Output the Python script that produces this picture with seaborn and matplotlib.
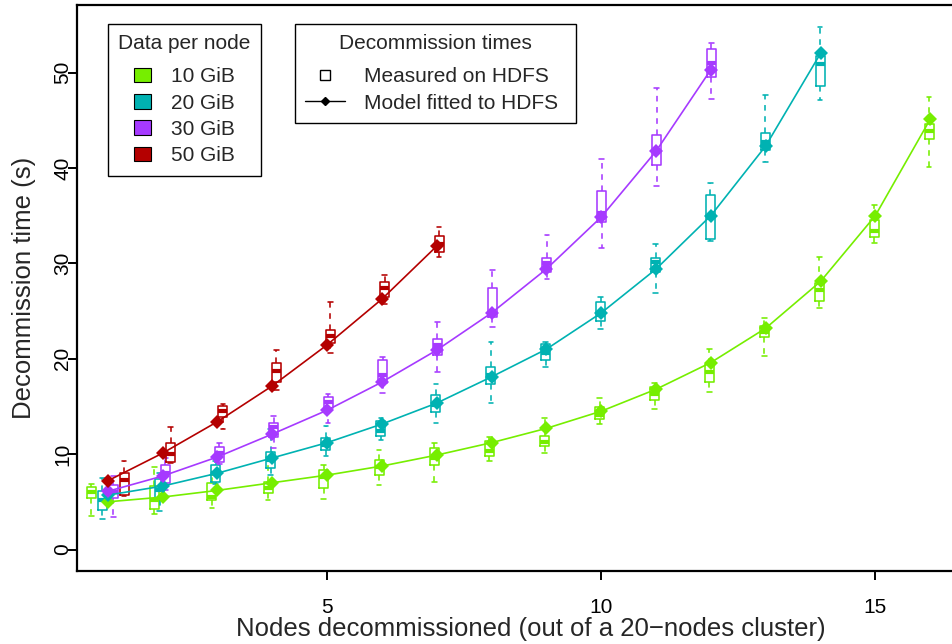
import matplotlib
matplotlib.use("Agg")
import matplotlib.pyplot as plt
from matplotlib.patches import Patch
from matplotlib.lines import Line2D
import seaborn as sns
import pandas as pd

# ---- data -------------------------------------------------------------
sizes = ["10 GiB", "20 GiB", "30 GiB", "50 GiB"]
colors = ["#76EE00", "#00B2B2", "#A63AFF", "#B40000"]

nodes_10 = list(range(1, 17))
nodes_20 = list(range(1, 15))
nodes_30 = list(range(1, 13))
nodes_50 = list(range(1, 8))

# model fitted to HDFS (seconds)
model_10 = [5.0, 5.5, 6.2, 7.0, 7.8, 8.75, 9.9, 11.2, 12.7, 14.5, 16.8, 19.6, 23.2, 28.1, 35.0, 45.1]
model_20 = [5.7, 6.65, 8.0, 9.6, 11.2, 13.15, 15.35, 18.1, 21.0, 24.8, 29.4, 35.0, 42.3, 52.0]
model_30 = [6.1, 7.7, 9.7, 12.1, 14.6, 17.55, 20.9, 24.8, 29.4, 34.85, 41.75, 50.3]
model_50 = [7.2, 10.1, 13.4, 17.15, 21.45, 26.25, 31.8]

# measured on HDFS: [whisker low, Q1, median, Q3, whisker high]
box_10 = [
    [3.5, 5.4, 6.0, 6.55, 6.85], [3.7, 4.3, 5.2, 6.7, 8.6], [4.35, 5.2, 5.5, 7.0, 7.8],
    [5.2, 5.9, 6.5, 7.1, 9.7], [5.3, 6.5, 7.6, 8.3, 8.85], [6.8, 7.8, 8.6, 9.4, 10.4],
    [7.1, 8.85, 9.6, 10.6, 11.2], [9.3, 9.8, 10.3, 11.4, 11.8], [10.1, 10.85, 11.3, 11.9, 13.8],
    [13.2, 13.7, 14.1, 14.9, 15.9], [14.7, 15.7, 16.3, 17.0, 17.5], [16.5, 17.6, 18.6, 19.5, 21.0],
    [20.3, 22.3, 22.8, 23.4, 24.3], [25.3, 26.0, 27.2, 27.9, 30.7], [32.1, 32.8, 33.4, 34.5, 36.1],
    [40.1, 43.0, 43.9, 44.6, 47.4],
]
box_20 = [
    [3.2, 4.15, 5.2, 6.1, 7.5], [4.0, 5.2, 6.2, 7.4, 8.0], [6.9, 7.1, 8.0, 8.9, 9.3],
    [7.8, 8.55, 9.4, 10.2, 12.6], [9.8, 10.4, 11.0, 11.7, 12.9], [11.5, 11.9, 12.4, 13.5, 13.8],
    [13.3, 14.4, 15.1, 16.2, 17.35], [15.35, 17.3, 18.3, 19.1, 21.75], [19.1, 19.85, 20.6, 21.5, 21.8],
    [23.1, 23.95, 24.6, 25.9, 26.5], [26.9, 29.1, 30.1, 30.55, 32.0], [32.3, 32.5, 34.9, 37.15, 38.4],
    [40.6, 41.9, 42.7, 43.7, 47.6], [47.1, 48.6, 50.9, 51.7, 54.8],
]
box_30 = [
    [3.4, 5.4, 6.0, 6.75, 7.7], [6.2, 6.95, 8.0, 8.85, 9.6], [9.0, 9.15, 10.1, 10.7, 11.15],
    [10.6, 11.8, 12.8, 13.3, 14.0], [13.3, 14.8, 15.5, 16.0, 16.3], [16.4, 17.45, 18.3, 19.85, 20.2],
    [18.6, 20.4, 21.4, 22.05, 23.85], [23.3, 24.4, 24.8, 27.4, 29.3], [28.35, 29.1, 30.0, 30.55, 33.0],
    [31.6, 34.3, 35.3, 37.6, 40.9], [38.1, 40.3, 41.8, 43.45, 48.4], [47.2, 49.5, 51.0, 52.45, 53.1],
]
box_50 = [
    [5.6, 5.7, 7.3, 8.0, 9.3], [9.1, 9.2, 10.0, 11.15, 12.8], [12.6, 13.9, 14.5, 15.0, 15.25],
    [16.7, 17.55, 18.7, 19.55, 20.9], [20.6, 21.7, 22.4, 23.0, 25.9], [25.7, 26.45, 27.4, 28.0, 28.8],
    [30.7, 31.2, 32.0, 32.85, 33.8],
]

nodes = [nodes_10, nodes_20, nodes_30, nodes_50]
models = [model_10, model_20, model_30, model_50]
boxes = [box_10, box_20, box_30, box_50]

# ---- figure -----------------------------------------------------------
sns.set_style("white")
plt.rcParams["font.family"] = ["Liberation Sans", "DejaVu Sans"]
plt.rcParams["axes.unicode_minus"] = True

W, H = 953, 644
fig = plt.figure(figsize=(W / 100, H / 100), dpi=100)
left_px, right_px, top_px, bottom_px = 77, 985, 5, 571
ax = fig.add_axes([left_px / W, 1 - bottom_px / H,
                   (right_px - left_px) / W, (bottom_px - top_px) / H])

# boxes, dodged around each x value (spread shrinks as x grows)
lw = 1.15
for g, (xs, stats_raw, c) in enumerate(zip(nodes, boxes, colors)):
    stats = [dict(whislo=s[0], q1=s[1], med=s[2], q3=s[3], whishi=s[4], fliers=[])
             for s in stats_raw]
    pos = [x + (g - 1.5) * 0.2 / x for x in xs]
    ax.bxp(stats, positions=pos, widths=0.165, showfliers=False, manage_ticks=False,
           capwidths=0.085,
           boxprops=dict(color=c, linewidth=lw),
           whiskerprops=dict(color=c, linewidth=lw, linestyle=(0, (3.5, 3.5))),
           capprops=dict(color=c, linewidth=lw),
           medianprops=dict(color=c, linewidth=3.0, solid_capstyle="butt"))

# fitted model curves
df = pd.concat([pd.DataFrame({"nodes": xs, "time": ys, "size": s})
                for xs, ys, s in zip(nodes, models, sizes)], ignore_index=True)
sns.lineplot(data=df, x="nodes", y="time", hue="size", palette=colors,
             marker="D", markersize=7.3, markeredgewidth=0, linewidth=1.2,
             legend=False, ax=ax, zorder=3)

ax.set_xlim(0.44, 17.0)
ax.set_ylim(-2.25, 57.08)
ax.set_xticks([5, 10, 15])
ax.set_yticks([0, 10, 20, 30, 40, 50])
ax.tick_params(axis="both", direction="out", length=6.5, width=1.4, labelsize=15,
               color="black", labelcolor="black", bottom=True, left=True)
ax.tick_params(axis="x", pad=13)
ax.tick_params(axis="y", pad=-3)
for lab in ax.get_yticklabels():
    lab.set_rotation(90)
    lab.set_va("center")
for sp in ax.spines.values():
    sp.set_color("black")
    sp.set_linewidth(1.6)

ax.set_xlabel("Nodes decommissioned (out of a 20\u2212nodes cluster)", fontsize=18.5, labelpad=0)
ax.set_ylabel("Decommission time (s)", fontsize=18.5, labelpad=12)

# legends
h1 = [Patch(facecolor=c, edgecolor="black", linewidth=0.8, label=s)
      for c, s in zip(colors, sizes)]
leg1 = ax.legend(handles=h1, title="Data per node", loc="upper left",
                 bbox_to_anchor=(108 / W, 1 - 24 / H), bbox_transform=fig.transFigure,
                 frameon=True, fancybox=False, edgecolor="black", framealpha=1,
                 fontsize=15, title_fontsize=15, handlelength=0.8, handleheight=0.7,
                 handletextpad=1.0, borderpad=0.5, labelspacing=0.35, borderaxespad=0)
leg1.get_frame().set_linewidth(1.0)
leg1._legend_box.sep = 10
ax.add_artist(leg1)

h2 = [Line2D([], [], linestyle="none", marker="s", markersize=7, markerfacecolor="none",
             markeredgecolor="black", markeredgewidth=1.0, label="Measured on HDFS"),
      Line2D([], [], color="black", linewidth=1.0, marker="D", markersize=4,
             label="Model fitted to HDFS")]
leg2 = ax.legend(handles=h2, title="Decommission times", loc="upper left",
                 bbox_to_anchor=(295 / W, 1 - 127 / H, 281 / W, 103 / H),
                 bbox_transform=fig.transFigure, mode="expand",
                 frameon=True, fancybox=False, edgecolor="black", framealpha=1,
                 fontsize=15, title_fontsize=15, handlelength=1.9,
                 handletextpad=0.9, borderpad=0.5, labelspacing=0.35, borderaxespad=0)
leg2.get_frame().set_linewidth(1.0)
leg2._legend_box.sep = 10

fig.savefig("out.png", dpi=100)
